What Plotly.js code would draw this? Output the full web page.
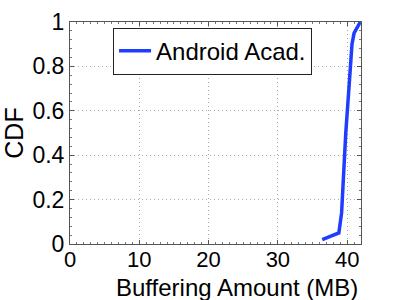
<!DOCTYPE html>
<html><head><meta charset="utf-8">
<script src="https://cdn.plot.ly/plotly-3.0.1.min.js"></script>
<style>body{margin:0;padding:0;background:#fff}#c{width:399px;height:300px}</style>
</head><body><div id="c"></div>
<script>
const seriesName = "Android Acad.";
const bufferingMB = [36.4, 38.8, 39.2, 39.5, 39.8, 40.3, 40.7, 41.0, 41.9];
const cdf = [0.02, 0.05, 0.14, 0.32, 0.5, 0.72, 0.9, 0.95, 1.0];
const xTicks = [0, 10, 20, 30, 40];
const yTicks = [0, 0.2, 0.4, 0.6, 0.8, 1];
const yTickText = ["0", "0.2", "0.4", "0.6", "0.8", "1"];
const xTitle = "Buffering Amount (MB)";
const yTitle = "CDF";

const font = {family: "Liberation Sans, Arial, sans-serif", color: "#000"};
const f = s => Object.assign({}, font, {size: s});
Plotly.newPlot("c", [{
  x: bufferingMB, y: cdf, type: "scatter", mode: "lines", name: seriesName,
  line: {color: "#1f3cff", width: 3.5}
}], {
  width: 399, height: 300,
  margin: {l: 70, r: 38, t: 22, b: 56},
  paper_bgcolor: "#fff", plot_bgcolor: "#fff",
  showlegend: true,
  legend: {x: 0.148, y: 0.975, xanchor: "left", yanchor: "top",
    bordercolor: "#222", borderwidth: 1, bgcolor: "#fff",
    font: f(24), itemwidth: 32, tracegroupgap: 0},
  xaxis: {range: [0, 42], tickvals: xTicks, ticktext: xTicks.map(String),
    showgrid: true, gridcolor: "#aaaaaa", griddash: "1px,3px", gridwidth: 1,
    zeroline: false, showline: true, linecolor: "#555", linewidth: 1, mirror: "ticks",
    ticks: "inside", ticklen: 4, tickcolor: "#555", ticklabelstandoff: -4,
    minor: {dtick: 1, ticks: "inside", ticklen: 2, tickcolor: "#777", showgrid: false},
    tickfont: f(22)},
  yaxis: {range: [0, 1], tickvals: yTicks, ticktext: yTickText,
    showgrid: true, gridcolor: "#aaaaaa", griddash: "1px,3px", gridwidth: 1,
    zeroline: false, showline: true, linecolor: "#555", linewidth: 1, mirror: "ticks",
    ticks: "inside", ticklen: 4, tickcolor: "#555",
    minor: {dtick: 0.04, ticks: "inside", ticklen: 2, tickcolor: "#777", showgrid: false},
    tickfont: f(23),
    title: {text: yTitle, font: f(25), standoff: 4}},
  annotations: [{text: xTitle, xref: "paper", yref: "paper", x: 0.574, y: -0.195,
    xanchor: "center", yanchor: "middle", showarrow: false, font: f(24)}]
}, {displayModeBar: false, staticPlot: true});
</script></body></html>
